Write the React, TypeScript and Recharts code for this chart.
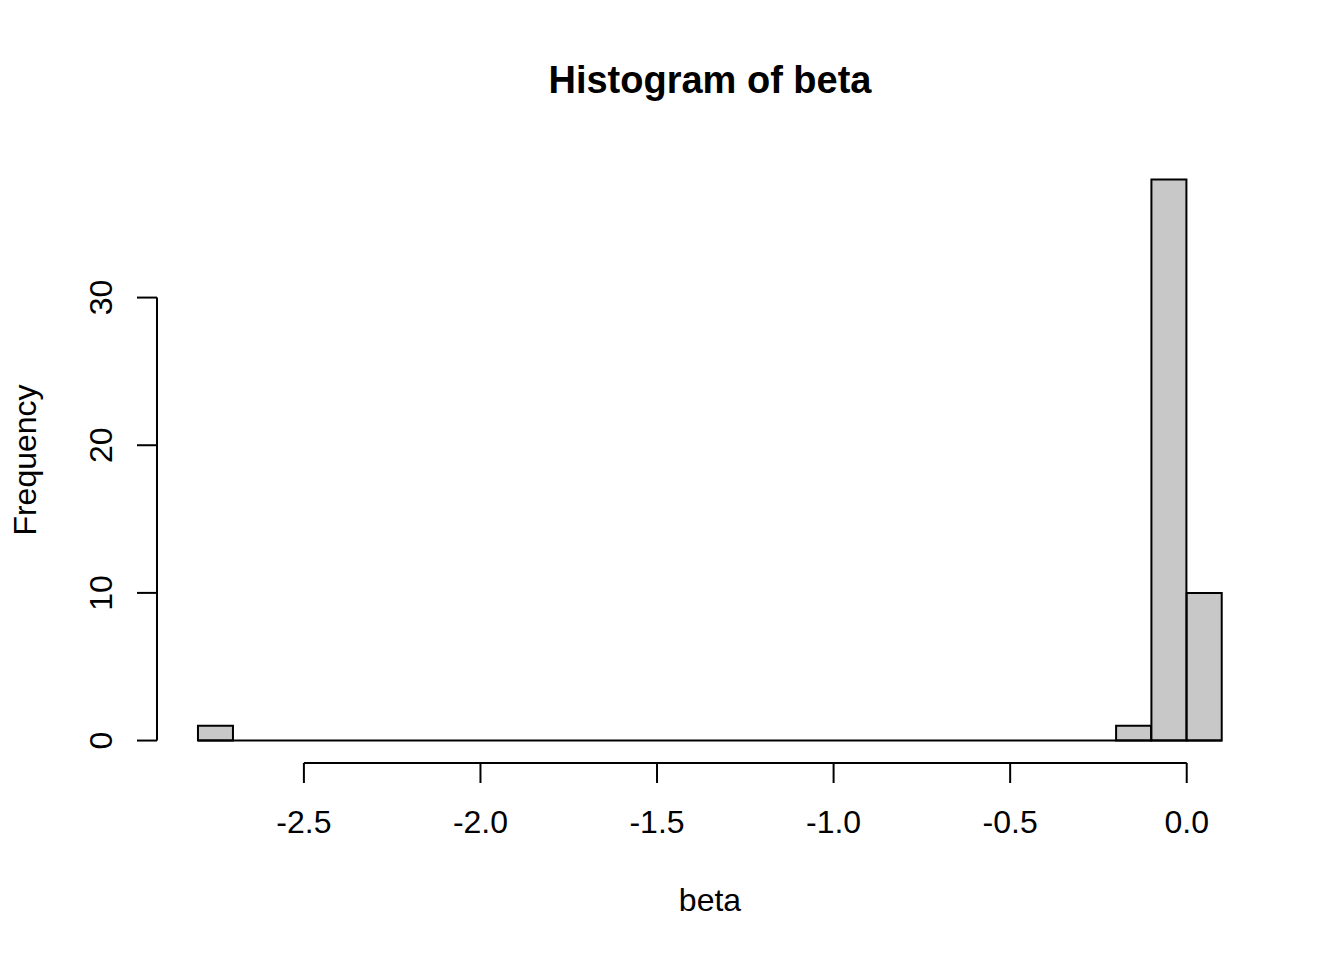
import React from 'react';
import { Bar, ComposedChart, Label, ReferenceLine, XAxis, YAxis } from 'recharts';

// histogram bins (width 0.1), midpoints and counts
const binMids = [
  -2.75, -2.65, -2.55, -2.45, -2.35, -2.25, -2.15, -2.05, -1.95, -1.85,
  -1.75, -1.65, -1.55, -1.45, -1.35, -1.25, -1.15, -1.05, -0.95, -0.85,
  -0.75, -0.65, -0.55, -0.45, -0.35, -0.25, -0.15, -0.05, 0.05,
];
const counts = [
  1, 0, 0, 0, 0, 0, 0, 0, 0, 0,
  0, 0, 0, 0, 0, 0, 0, 0, 0, 0,
  0, 0, 0, 0, 0, 0, 1, 38, 10,
];
const binRange = [-2.8, 0.1];

const xTicks = [-2.5, -2.0, -1.5, -1.0, -0.5, 0.0];
const xTickLabels = ['-2.5', '-2.0', '-1.5', '-1.0', '-0.5', '0.0'];
const yTicks = [0, 10, 20, 30];

// R pads the data range by 4% on each side
const xDomain: [number, number] = [-2.916, 0.216];
const yDomain: [number, number] = [-1.52, 39.52];

const FONT = "'Liberation Sans', Arial, Helvetica, sans-serif";
const INK = '#000';

const data = binMids.map((mid, i) => ({ mid, count: counts[i] }));

const XTick = (props: any) => {
  const { x, y, payload } = props;
  const idx = xTicks.indexOf(payload.value);
  return (
    <text x={x} y={y + 50} textAnchor="middle" fontFamily={FONT} fontSize={32} fill={INK}>
      {idx >= 0 ? xTickLabels[idx] : payload.value}
    </text>
  );
};

const YTick = (props: any) => {
  const { x, y, payload } = props;
  const bx = x - 25;
  return (
    <text
      x={bx}
      y={y}
      transform={`rotate(-90, ${bx}, ${y})`}
      textAnchor="middle"
      fontFamily={FONT}
      fontSize={32}
      fill={INK}
    >
      {payload.value}
    </text>
  );
};

const App: React.FC = () => {
  return (
    <div style={{ position: 'absolute', left: 0, top: 0, width: 1344, height: 960, background: '#fff' }}>
      <ComposedChart
        width={1344}
        height={960}
        data={data}
        margin={{ top: 157, right: 81, bottom: 0, left: 0 }}
        barCategoryGap={0}
        barGap={0}
      >
        <text x={710} y={93} textAnchor="middle" fontFamily={FONT} fontSize={38} fontWeight="bold" fill={INK}>
          Histogram of beta
        </text>
        <XAxis
          dataKey="mid"
          type="number"
          domain={xDomain}
          ticks={xTicks}
          allowDataOverflow
          height={197}
          axisLine={false}
          tickLine={{ stroke: INK, strokeWidth: 2 }}
          tickSize={20}
          tickMargin={0}
          tick={<XTick />}
          interval={0}
        >
          <Label
            content={(p: any) => {
              const vb = p.viewBox;
              return (
                <text x={vb.x + vb.width / 2} y={vb.y + 148} textAnchor="middle" fontFamily={FONT} fontSize={32} fill={INK}>
                  beta
                </text>
              );
            }}
          />
        </XAxis>
        <YAxis
          type="number"
          domain={yDomain}
          ticks={yTicks}
          allowDataOverflow
          width={157}
          axisLine={false}
          tickLine={{ stroke: INK, strokeWidth: 2 }}
          tickSize={20}
          tickMargin={0}
          tick={<YTick />}
          interval={0}
        >
          <Label
            content={(p: any) => {
              const vb = p.viewBox;
              const cy = vb.y + vb.height / 2;
              return (
                <text
                  x={36}
                  y={cy}
                  transform={`rotate(-90, 36, ${cy})`}
                  textAnchor="middle"
                  fontFamily={FONT}
                  fontSize={32}
                  fill={INK}
                >
                  Frequency
                </text>
              );
            }}
          />
        </YAxis>
        <ReferenceLine
          segment={[{ x: binRange[0], y: 0 }, { x: binRange[1], y: 0 }]}
          stroke={INK}
          strokeWidth={2}
          ifOverflow="visible"
        />
        <Bar dataKey="count" fill="#c8c8c8" stroke={INK} strokeWidth={2} isAnimationActive={false} />
        {/* R-style axis lines that run only between the outer ticks */}
        <ReferenceLine
          segment={[{ x: xTicks[0], y: yDomain[0] }, { x: xTicks[xTicks.length - 1], y: yDomain[0] }]}
          stroke={INK}
          strokeWidth={2}
          ifOverflow="visible"
        />
        <ReferenceLine
          segment={[{ x: xDomain[0], y: yTicks[0] }, { x: xDomain[0], y: yTicks[yTicks.length - 1] }]}
          stroke={INK}
          strokeWidth={2}
          ifOverflow="visible"
        />
      </ComposedChart>
    </div>
  );
};

export default App;
